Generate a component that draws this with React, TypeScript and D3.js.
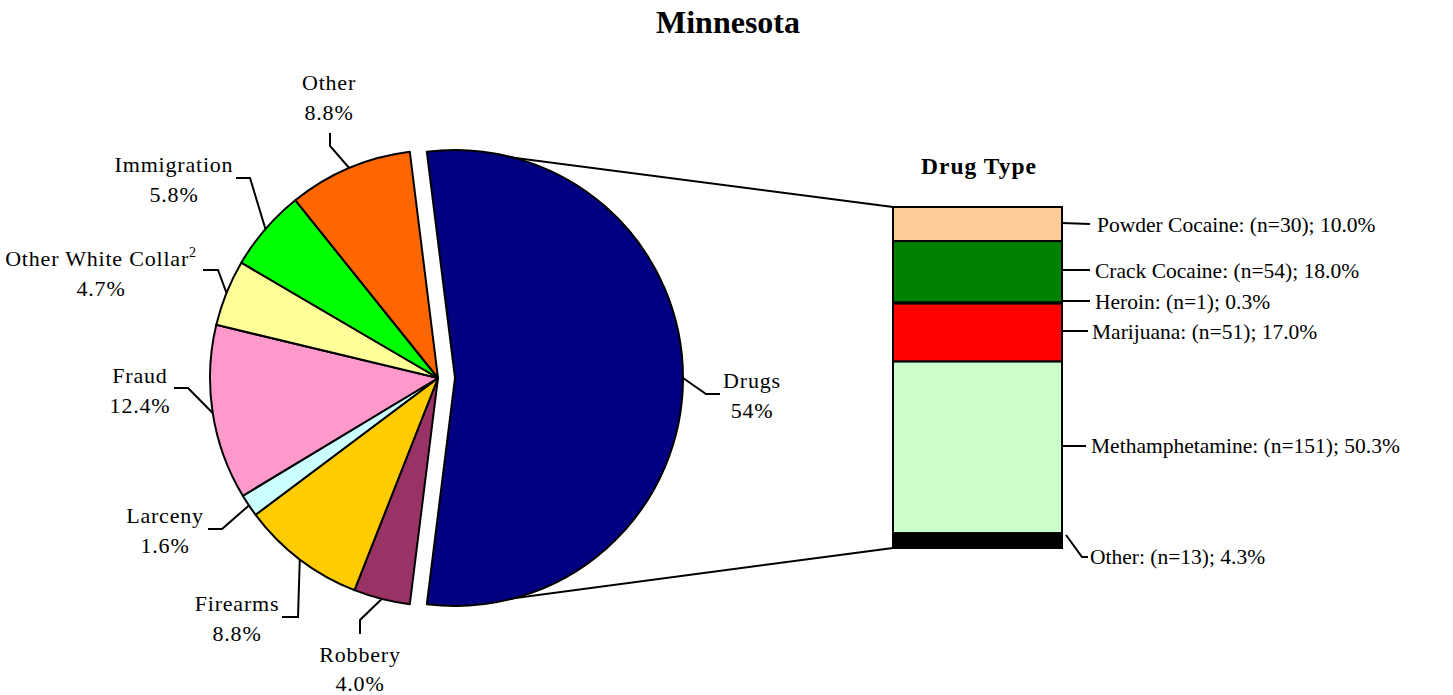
import React from "react";
import * as d3 from "d3";

// ---- Data ----
const pieCategories = ["Drugs", "Robbery", "Firearms", "Larceny", "Fraud", "Other White Collar", "Immigration", "Other"];
const pieValues = [54, 4.0, 8.8, 1.6, 12.4, 4.7, 5.8, 8.8];
const pieLabels = ["54%", "4.0%", "8.8%", "1.6%", "12.4%", "4.7%", "5.8%", "8.8%"];
const pieColors = ["#000080", "#993366", "#FFCC00", "#CCFFFF", "#FF99CC", "#FFFF99", "#00FF00", "#FF6600"];

const drugCategories = ["Powder Cocaine", "Crack Cocaine", "Heroin", "Marijuana", "Methamphetamine", "Other"];
const drugCounts = [30, 54, 1, 51, 151, 13];
const drugPercents = ["10.0%", "18.0%", "0.3%", "17.0%", "50.3%", "4.3%"];
const drugColors = ["#FFCC99", "#008000", "#3366FF", "#FF0000", "#CCFFCC", "#000000"];

// ---- Layout (positions, not data) ----
const W = 1453, H = 695;
const cx = 438, cy = 378, R = 228;
const explode = 17;
const FONT = "'Liberation Serif', 'Times New Roman', serif";

const pieLabelLayout = [
  { x: 752, y: 388, pts: [[720, 394], [706, 394]] },
  { x: 360, y: 662, pts: [[360, 634], [360, 620]] },
  { x: 237, y: 611, pts: [[282, 617], [298, 617]] },
  { x: 165, y: 523, pts: [[208, 529], [222, 529]] },
  { x: 140, y: 383, pts: [[174, 388], [188, 388]] },
  { x: 101, y: 266, pts: [[203, 270], [218, 270]] },
  { x: 174, y: 172, pts: [[236, 178], [250, 178]] },
  { x: 329, y: 90, pts: [[330, 133], [330, 146]] },
];

const barX0 = 893, barX1 = 1062, barY0 = 207, barY1 = 548;
const barLabelLayout = [
  { y: 225, pts: [[1062, 223], [1090, 224]], tx: 1097 },
  { y: 271, pts: [[1062, 270], [1090, 270]], tx: 1095 },
  { y: 302, pts: [[1062, 301], [1090, 301]], tx: 1095 },
  { y: 332, pts: [[1062, 331], [1088, 331]], tx: 1092 },
  { y: 446, pts: [[1062, 446], [1086, 446]], tx: 1091 },
  { y: 557, pts: [[1066, 535], [1082, 557], [1088, 557]], tx: 1090 },
];

export default function App() {
  const total = d3.sum(pieValues);
  const drugAngle = (pieValues[0] / total) * 2 * Math.PI;
  const start = -(drugAngle - Math.PI) / 2;
  const pie = d3.pie<number>().sort(null).value((d) => d).startAngle(start).endAngle(start + 2 * Math.PI);
  const arcs = pie(pieValues);
  const arcGen = d3.arc<d3.PieArcDatum<number>>().innerRadius(0).outerRadius(R);

  const yScale = d3.scaleLinear().domain([0, d3.sum(drugCounts)]).range([barY0, barY1]);
  let cum = 0;
  const segs = drugCounts.map((n, i) => {
    const s = { y0: yScale(cum), y1: yScale(cum + n), i };
    cum += n;
    return s;
  });

  const lineGen = d3.line();

  return (
    <svg width={W} height={H} style={{ position: "absolute", left: 0, top: 0, background: "#fff" }} fontFamily={FONT}>
      <text x={728} y={33} textAnchor="middle" fontWeight="bold" fontSize={32}>Minnesota</text>

      <line x1={cx + explode} y1={cy - R} x2={barX0} y2={barY0} stroke="#000" strokeWidth={2} />
      <line x1={cx + explode} y1={cy + R} x2={barX0} y2={barY1} stroke="#000" strokeWidth={2} />

      {arcs.map((a, i) => (
        <path
          key={i}
          d={arcGen(a) || ""}
          transform={`translate(${cx + (i === 0 ? explode : 0)},${cy})`}
          fill={pieColors[i]}
          stroke="#000"
          strokeWidth={2}
          strokeLinejoin="round"
        />
      ))}

      {arcs.map((a, i) => {
        const mid = (a.startAngle + a.endAngle) / 2;
        const ox = cx + (i === 0 ? explode : 0);
        const px = ox + R * Math.sin(mid);
        const py = cy - R * Math.cos(mid);
        const L = pieLabelLayout[i];
        const pts: [number, number][] = [...(L.pts as [number, number][]), [px, py]];
        const name = pieCategories[i];
        return (
          <g key={"l" + i}>
            <path d={lineGen(pts) || ""} fill="none" stroke="#000" strokeWidth={2} />
            <text x={L.x} y={L.y} textAnchor="middle" fontSize={22} letterSpacing={0.8}>
              {name === "Other White Collar" ? (
                <>
                  {name}
                  <tspan fontSize={14} dy={-9}>2</tspan>
                </>
              ) : (
                name
              )}
            </text>
            <text x={L.x} y={i === 1 ? L.y + 29 : L.y + 30} textAnchor="middle" fontSize={22} letterSpacing={0.8}>{pieLabels[i]}</text>
          </g>
        );
      })}

      <text x={979} y={174} textAnchor="middle" fontWeight="bold" fontSize={23.5} letterSpacing={1}>Drug Type</text>

      {segs.map((s) => (
        <rect
          key={"b" + s.i}
          x={barX0}
          y={s.y0}
          width={barX1 - barX0}
          height={s.y1 - s.y0}
          fill={drugColors[s.i]}
          stroke="#000"
          strokeWidth={2}
        />
      ))}

      {barLabelLayout.map((L, i) => (
        <g key={"bl" + i}>
          <path d={lineGen(L.pts as [number, number][]) || ""} fill="none" stroke="#000" strokeWidth={2} />
          <text x={L.tx} y={L.y + 7} fontSize={21.5}>
            {`${drugCategories[i]}: (n=${drugCounts[i]}); ${drugPercents[i]}`}
          </text>
        </g>
      ))}
    </svg>
  );
}
